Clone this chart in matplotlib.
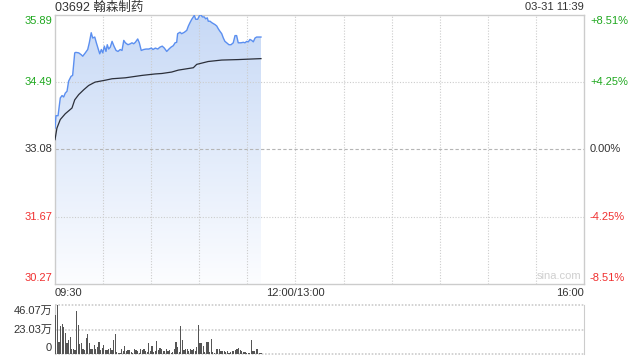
import matplotlib
matplotlib.use("Agg")
import matplotlib.pyplot as plt
import numpy as np
from matplotlib.colors import LinearSegmentedColormap

# ---------------- data ----------------
title = "03692 翰森制药"
stamp = "03-31 11:39"
prev_close = 33.08
price_ticks = [35.89, 34.49, 33.08, 31.67, 30.27]
pct_labels = ["+8.51%", "+4.25%", "0.00%", "-4.25%", "-8.51%"]
x_labels = ["09:30", "12:00/13:00", "16:00"]
x_label_minutes = [0, 150, 330]
vol_labels = ["46.07万", "23.03万", "0"]
vol_ticks = [46.07, 23.03, 0]

price_minutes = [0, 0.6, 1.9, 3.3, 4.4, 5.4, 6.4, 7.5, 8.5, 10, 11, 12.3, 13, 14.8, 16.4, 17.3,
                 18.9, 20.4, 21.4, 22.6, 23.5, 24.8, 25.8, 26.8, 27.9, 28.9, 29.8, 30.8, 31.8,
                 32.6, 33.5, 34.5, 35.6, 36.8, 38.1, 39.3, 40.7, 41.8, 42.9, 43.9, 45.5, 47, 48,
                 49.1, 50.1, 51.6, 52.6, 53.8, 55.3, 56.8, 58.5, 60.1, 61.1, 62.6, 64.1, 65.5,
                 66.9, 68.2, 69.7, 71.1, 72.4, 73.8, 74.9, 75.9, 76.5, 78, 79, 80.7, 82.2, 83.2,
                 84.2, 85.3, 86.3, 86.9, 87.8, 89, 90, 90.9, 91.9, 93.1, 94, 95, 95.6, 96.7,
                 97.8, 98.8, 99.8, 100.9, 101.9, 102.9, 104, 105, 106, 107.1, 108.5, 109.8,
                 111.2, 112.3, 113.3, 114.3, 116, 117.5, 118.5, 119.6, 120.6, 121.6, 122.7,
                 123.7, 124.8, 125.8, 128.5]
price_values = [33.52, 33.78, 33.78, 34.15, 34.20, 34.17, 34.25, 34.29, 34.50, 34.60, 34.62,
                35.09, 35.10, 35.09, 35.05, 35.02, 35.09, 35.16, 35.30, 35.51, 35.40, 35.42,
                35.30, 35.19, 35.07, 35.16, 35.09, 35.23, 35.12, 35.26, 35.17, 35.21, 35.33,
                35.23, 35.14, 35.12, 35.16, 35.14, 35.35, 35.30, 35.26, 35.28, 35.30, 35.28,
                35.31, 35.38, 35.30, 35.14, 35.16, 35.17, 35.17, 35.19, 35.16, 35.19, 35.17,
                35.21, 35.23, 35.19, 35.12, 35.17, 35.21, 35.24, 35.30, 35.31, 35.49, 35.52,
                35.49, 35.52, 35.56, 35.65, 35.72, 35.79, 35.84, 35.87, 35.79, 35.79, 35.86,
                35.89, 35.84, 35.84, 35.80, 35.82, 35.75, 35.75, 35.72, 35.70, 35.68, 35.65,
                35.59, 35.54, 35.49, 35.40, 35.33, 35.30, 35.26, 35.26, 35.30, 35.45, 35.45,
                35.30, 35.30, 35.31, 35.30, 35.33, 35.32, 35.37, 35.35, 35.32, 35.40, 35.42,
                35.42]

avg_minutes = [0, 1.2, 3.3, 6.4, 10.6, 12.3, 14.8, 17.9, 21, 25, 31.4, 35.6, 43.9, 54.3,
               62.4, 66.7, 72.8, 76.9, 86.3, 88.4, 95.6, 104, 114.3, 128.5]
avg_values = [33.28, 33.52, 33.70, 33.82, 33.94, 34.11, 34.22, 34.32, 34.41, 34.48, 34.52,
              34.55, 34.57, 34.62, 34.65, 34.66, 34.69, 34.73, 34.78, 34.85, 34.91, 34.94,
              34.95, 34.97]

volumes = [36.4, 46, 11, 26.6, 28.5, 25, 20, 10, 13, 15.7, 4.7, 5, 4, 40, 27, 9.7, 10, 5, 4,
           15, 19, 10, 5, 5, 8.5, 5, 6.6, 11, 4, 6, 8.3, 4, 3.5, 5, 6, 4, 13.5, 18.5, 1.7, 1,
           1, 5, 2.5, 7.8, 2.5, 4, 4, 1.5, 1, 5, 4, 2.5, 1, 5, 4, 5, 2.5, 1.5, 10, 2.5, 7.5,
           1.5, 2.5, 12, 4, 6, 5, 2.5, 3, 5, 2.5, 4, 1, 1.5, 5, 11, 7, 1.5, 26.6, 12.8, 4, 5,
           5, 2.5, 5, 4, 5, 2.5, 7, 27.6, 10, 10, 7.5, 1.5, 11, 11, 1.5, 14, 2, 0.5, 5, 5, 5,
           3, 2.5, 2.5, 2, 3, 1, 1.5, 2.5, 2.5, 3.5, 5, 5.5, 4, 2.5, 1.5, 1.5, 0.5, 1, 0.5,
           13.5, 2.5, 3, 5, 5, 1, 0.5]

# ---------------- style ----------------
GREEN = "#1fa81f"
RED = "#f03030"
DARK = "#333333"
GRID = "#cccccc"
FONT = ["Liberation Sans", "Noto Sans CJK SC", "DejaVu Sans"]
plt.rcParams["font.family"] = FONT

W, H = 640, 360
fig = plt.figure(figsize=(6.4, 3.6), dpi=100)
fig.patch.set_facecolor("white")

def rect(l, t, r, b):
    return [l / W, (H - b) / H, (r - l) / W, (b - t) / H]

ax = fig.add_axes(rect(55, 14.5, 584, 284))
axv = fig.add_axes(rect(55, 305, 584, 354))

XMAX = 330
ymin, ymax = price_ticks[-1], price_ticks[0]

# gradient fill under price line
pm = np.array(price_minutes)
pv = np.array(price_values)
poly = ax.fill_between(pm, pv, ymin, color="none", lw=0)
cmap = LinearSegmentedColormap.from_list("g", ["#fcfdff", "#c7d9f6"])
grad = np.linspace(0, 1, 256).reshape(-1, 1)
im = ax.imshow(grad, extent=[0, XMAX, ymin, ymax], origin="lower", aspect="auto",
               cmap=cmap, zorder=1)
path = poly.get_paths()[0]
im.set_clip_path(path, transform=ax.transData)

ax.plot(pm, pv, color="#5b8ff0", lw=1.0, zorder=3)
ax.plot(avg_minutes, avg_values, color="#2b2f3a", lw=0.9, zorder=3)

ax.set_xlim(0, XMAX)
ax.set_ylim(ymin, ymax)
ax.set_xticks([])
ax.set_yticks([])
for s in ax.spines.values():
    s.set_color(GRID)
    s.set_linewidth(1)

for m in range(30, XMAX, 30):
    ax.axvline(m, color=GRID, lw=0.8, ls=(0, (1, 1.5)), zorder=2)
for p in price_ticks[1:-1]:
    if p == prev_close:
        ax.axhline(p, color="#b5b5b5", lw=0.8, ls=(0, (3, 2)), zorder=2)
    else:
        ax.axhline(p, color=GRID, lw=0.8, ls=(0, (1, 1.5)), zorder=2)

colors = [GREEN, GREEN, DARK, RED, RED]
for i, (p, lab, c) in enumerate(zip(price_ticks, pct_labels, colors)):
    dy = 0
    if i == 0:
        dy = -6
    elif i == len(price_ticks) - 1:
        dy = 6
    ax.annotate(f"{p:.2f}", (0, p), xycoords=("axes fraction", "data"),
                xytext=(-3, dy), textcoords="offset pixels", ha="right", va="center",
                color=c, fontsize=8)
    ax.annotate(lab, (1, p), xycoords=("axes fraction", "data"),
                xytext=(6, dy), textcoords="offset pixels", ha="left", va="center",
                color=c, fontsize=8)

for lab, m, ha in zip(x_labels, x_label_minutes, ["left", "center", "right"]):
    ax.annotate(lab, (m, 0), xycoords=("data", "axes fraction"),
                xytext=(0, -9), textcoords="offset pixels", ha=ha, va="center",
                color=DARK, fontsize=8)

ax.text(0.995, 0.012, "sina.com", transform=ax.transAxes, ha="right", va="bottom",
        color="#cfcfcf", fontsize=8)

fig.text(55 / W, 1 - 7.5 / H, title, ha="left", va="center", color=DARK, fontsize=9)
fig.text(584 / W, 1 - 7.5 / H, stamp, ha="right", va="center", color=DARK, fontsize=8)

# ---------------- volume ----------------
vm = np.arange(len(volumes))
axv.bar(vm + 0.5, volumes, width=0.75, color="#555555", zorder=3)
axv.set_xlim(0, XMAX)
axv.set_ylim(0, vol_ticks[0])
axv.set_xticks([])
axv.set_yticks([])
for k in ["top", "bottom"]:
    axv.spines[k].set_visible(False)
for k in ["left", "right"]:
    axv.spines[k].set_color(GRID)
for v in vol_ticks:
    axv.axhline(v, color=GRID, lw=1.2, ls=(0, (1, 1)), zorder=1, clip_on=False)
for i, (v, lab) in enumerate(zip(vol_ticks, vol_labels)):
    dy = -6 if i == 0 else (6 if i == len(vol_ticks) - 1 else 0)
    axv.annotate(lab, (0, v), xycoords=("axes fraction", "data"),
                 xytext=(-3, dy), textcoords="offset pixels", ha="right", va="center",
                 color=DARK, fontsize=8)

fig.savefig("out.png", dpi=100, facecolor="white")
